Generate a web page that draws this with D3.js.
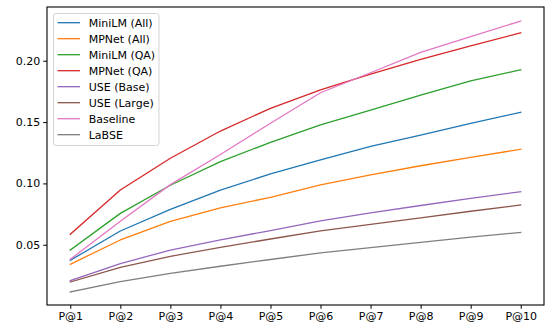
<!DOCTYPE html>
<html>
<head>
<meta charset="utf-8">
<script src="https://cdn.jsdelivr.net/npm/d3@7"></script>
<style>
  html, body { margin: 0; padding: 0; background: #fff; }
  svg { display: block; font-family: "DejaVu Sans", sans-serif; }
</style>
</head>
<body>
<svg id="chart" width="549" height="324"></svg>
<script>
const categories = ["P@1","P@2","P@3","P@4","P@5","P@6","P@7","P@8","P@9","P@10"];
const seriesNames = ["MiniLM (All)","MPNet (All)","MiniLM (QA)","MPNet (QA)","USE (Base)","USE (Large)","Baseline","LaBSE"];
const seriesColors = ["#1f77b4","#ff7f0e","#2ca02c","#d62728","#9467bd","#8c564b","#e377c2","#7f7f7f"];
const miniLMAll = [0.0373,0.0612,0.0789,0.0946,0.1077,0.1191,0.1302,0.1394,0.1490,0.1580];
const mpnetAll  = [0.0341,0.0539,0.0691,0.0801,0.0887,0.0989,0.1070,0.1144,0.1213,0.1278];
const miniLMQA  = [0.0457,0.0756,0.0985,0.1177,0.1335,0.1477,0.1598,0.1720,0.1835,0.1927];
const mpnetQA   = [0.0585,0.0946,0.1205,0.1427,0.1612,0.1763,0.1890,0.2011,0.2122,0.2228];
const useBase   = [0.0207,0.0346,0.0457,0.0539,0.0616,0.0694,0.0760,0.0820,0.0878,0.0932];
const useLarge  = [0.0196,0.0316,0.0406,0.0479,0.0547,0.0614,0.0666,0.0720,0.0773,0.0824];
const baseline  = [0.0381,0.0691,0.0990,0.1236,0.1490,0.1739,0.1902,0.2068,0.2196,0.2324];
const labse     = [0.0115,0.0199,0.0267,0.0325,0.0380,0.0434,0.0476,0.0520,0.0562,0.0601];
const yTicks = [0.05,0.10,0.15,0.20];

const seriesValues = [miniLMAll, mpnetAll, miniLMQA, mpnetQA, useBase, useLarge, baseline, labse];

const svg = d3.select("#chart");
const L = 47, R = 544, T = 7, B = 305;

const x = d3.scaleLinear().domain([0.535, 10.465]).range([L, R]);
const y = d3.scaleLinear().domain([0.0009, 0.2438]).range([B, T]);

// lines
const line = d3.line().x((d, i) => x(i + 1)).y(d => y(d));
seriesValues.forEach((vals, k) => {
  svg.append("path")
    .datum(vals)
    .attr("fill", "none")
    .attr("stroke", seriesColors[k])
    .attr("stroke-width", 1.3)
    .attr("stroke-linejoin", "round")
    .attr("stroke-linecap", "square")
    .attr("d", line);
});

// axes
const xAxis = d3.axisBottom(x)
  .tickValues(d3.range(1, categories.length + 1))
  .tickFormat(d => categories[d - 1])
  .tickSize(3.8).tickPadding(3);
const yAxis = d3.axisLeft(y)
  .tickValues(yTicks)
  .tickFormat(d3.format(".2f"))
  .tickSize(3.8).tickPadding(3);

const gx = svg.append("g").attr("transform", `translate(0,${B})`).call(xAxis);
const gy = svg.append("g").attr("transform", `translate(${L},0)`).call(yAxis);
[gx, gy].forEach(g => {
  g.select(".domain").remove();
  g.selectAll(".tick line").attr("stroke", "#000").attr("stroke-width", 1);
  g.selectAll(".tick text").attr("fill", "#000").style("font-size", "11px").style("font-family", "DejaVu Sans");
});

// spines
svg.append("rect")
  .attr("x", L).attr("y", T).attr("width", R - L).attr("height", B - T)
  .attr("fill", "none").attr("stroke", "#000").attr("stroke-width", 1.1);

// legend
const lg = svg.append("g");
lg.append("rect")
  .attr("x", 53.5).attr("y", 13.5).attr("width", 105.5).attr("height", 132)
  .attr("rx", 2.5).attr("ry", 2.5)
  .attr("fill", "#fff").attr("fill-opacity", 0.8)
  .attr("stroke", "#d5d5d5").attr("stroke-width", 1);
seriesNames.forEach((name, k) => {
  const yy = 22.7 + k * 16;
  lg.append("line")
    .attr("x1", 57.5).attr("x2", 80).attr("y1", yy).attr("y2", yy)
    .attr("stroke", seriesColors[k]).attr("stroke-width", 1.3);
  lg.append("text")
    .attr("x", 88.7).attr("y", yy).attr("dy", "0.35em")
    .style("font-size", "11px").attr("fill", "#000")
    .text(name);
});
</script>
</body>
</html>
